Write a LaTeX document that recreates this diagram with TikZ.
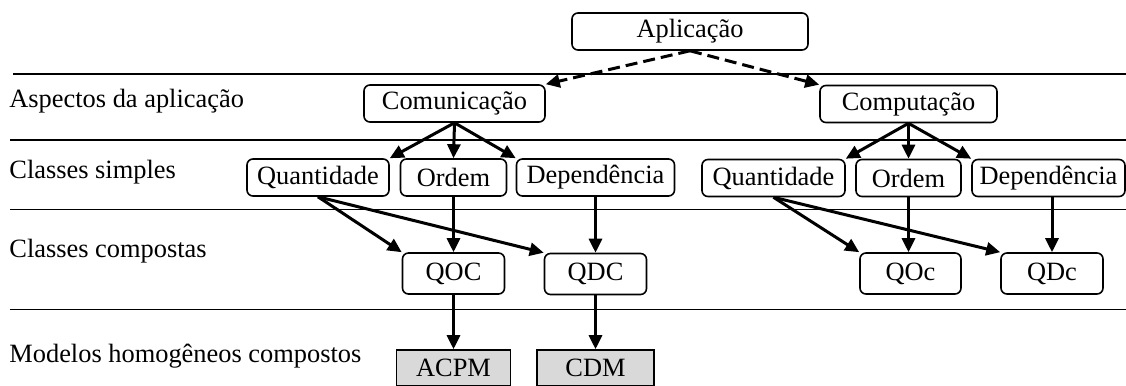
\documentclass[tikz,border=0pt]{standalone}
\usepackage{fontspec}
\setmainfont{Liberation Serif}
\usetikzlibrary{arrows.meta}
\definecolor{boxgray}{RGB}{217,217,217}
\begin{document}
\begin{tikzpicture}[x=0.5pt,y=-0.5pt,
  font=\fontsize{13.2}{15.8}\selectfont,
  box/.style={draw,line width=0.8pt,rounded corners=3pt,inner sep=0pt,minimum height=18.5pt,align=center},
  model/.style={draw,line width=0.8pt,fill=boxgray,inner sep=0pt,minimum height=18pt},
  arr/.style={line width=1.5pt,-{Triangle[length=7pt,width=6.5pt]}},
  darr/.style={arr,dash pattern=on 6pt off 3pt},
  sep/.style={line width=0.8pt},
  lbl/.style={anchor=base west,inner sep=0pt}]
\useasboundingbox (0,0) rectangle (1126,386);
% separator lines
\draw[sep] (13,74) -- (1126,74);
\draw[sep] (10,140) -- (1126,140);
\draw[sep] (10,209.5) -- (1126,209.5);
\draw[sep] (10,309.5) -- (1126,309.5);
% row labels
\node[lbl] (l1) at (9,107) {Aspectos da aplicação};
\node[lbl] (l2) at (9,178) {Classes simples};
\node[lbl] (l3) at (9,257) {Classes compostas};
\node[lbl] (l4) at (9,362) {Modelos homogêneos compostos};
% nodes
\node[box,minimum width=118pt] (app) at (690,31.5) {Aplicação};
\node[box,minimum width=90.5pt] (com) at (454.5,103.5) {Comunicação};
\node[box,minimum width=88.5pt] (comp) at (908.5,104) {Computação};
\node[box,minimum width=71pt] (q1) at (318,177.5) {Quantidade};
\node[box,minimum width=53pt] (o1) at (453.5,177.5) {Ordem};
\node[box,minimum width=79pt] (d1) at (595.5,177.5) {Dependência};
\node[box,minimum width=71.5pt] (q2) at (773.5,178) {Quantidade};
\node[box,minimum width=52.5pt] (o2) at (908.5,178) {Ordem};
\node[box,minimum width=76.5pt] (d2) at (1048.5,178) {Dependência};
\node[box,minimum width=51pt,minimum height=20.5pt] (qoc) at (453.5,273.5) {QOC};
\node[box,minimum width=51pt,minimum height=20.5pt] (qdc) at (595.5,274) {QDC};
\node[box,minimum width=50.5pt,minimum height=20.5pt] (qoc2) at (910.5,273.5) {QOc};
\node[box,minimum width=51pt,minimum height=20.5pt] (qdc2) at (1052,273.5) {QDc};
\node[model,minimum width=57pt] (acpm) at (453.5,368) {ACPM};
\node[model,minimum width=58.5pt] (cdm) at (595.5,368) {CDM};
% connectors
\draw[darr] (app.south) -- (com.north east);
\draw[darr] (app.south) -- (comp.north west);
\draw[arr] (com.south) -- (q1.north east);
\draw[arr] (com.south) -- (o1.north);
\draw[arr] (com.south) -- (d1.north west);
\draw[arr] (comp.south) -- (q2.north east);
\draw[arr] (comp.south) -- (o2.north);
\draw[arr] (comp.south) -- (d2.north west);
\draw[arr] (q1.south) -- (qoc.north west);
\draw[arr] (q1.south) -- (qdc.north west);
\draw[arr] (o1.south) -- (qoc.north);
\draw[arr] (d1.south) -- (qdc.north);
\draw[arr] (q2.south) -- (qoc2.north west);
\draw[arr] (q2.south) -- (qdc2.north west);
\draw[arr] (o2.south) -- (o2.south |- qoc2.north);
\draw[arr] (qdc2.north |- d2.south) -- (qdc2.north);
\draw[arr] (qoc.south) -- (acpm.north);
\draw[arr] (qdc.south) -- (cdm.north);
\end{tikzpicture}
\end{document}
